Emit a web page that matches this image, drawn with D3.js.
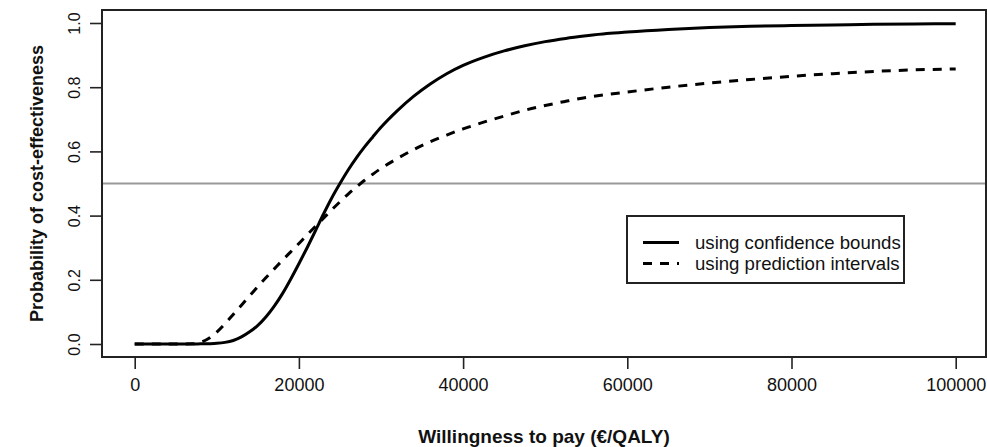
<!DOCTYPE html>
<html>
<head>
<meta charset="utf-8">
<script src="https://cdn.jsdelivr.net/npm/d3@7"></script>
<style>
  html, body { margin: 0; padding: 0; background: #fff; }
  svg { display: block; }
  text { font-family: "Liberation Sans", Arial, Helvetica, sans-serif; fill: #111; }
</style>
</head>
<body>
<svg id="chart" width="987" height="447"></svg>
<script>
// ---- data ----
const wtp = [0, 2500, 5000, 6000, 7000, 8000, 9000, 10000, 11000, 12000, 13000, 14000, 15000, 16000, 17000, 18000, 19000, 20000,
  21000, 22000, 23000, 24000, 25000, 26000, 27000, 28000, 29000, 30000, 32000, 34000, 36000, 38000, 40000,
  42500, 45000, 47500, 50000, 52500, 55000, 57500, 60000, 65000, 70000, 75000, 80000, 85000, 90000, 95000, 100000];
const confidenceBounds = [0, 0, 0, 0, 0, 0.0005, 0.001, 0.002, 0.005, 0.011, 0.022, 0.038, 0.058, 0.085, 0.118, 0.157, 0.202, 0.25,
  0.30, 0.352, 0.405, 0.455, 0.50, 0.542, 0.58, 0.614, 0.645, 0.675, 0.727, 0.772, 0.81, 0.842, 0.868,
  0.893, 0.913, 0.929, 0.942, 0.952, 0.96, 0.967, 0.972, 0.98, 0.986, 0.99, 0.992, 0.994, 0.996, 0.997, 0.998];
const predictionIntervals = [0, 0, 0, 0, 0.0005, 0.005, 0.017, 0.037, 0.063, 0.092, 0.121, 0.15, 0.179, 0.207, 0.234, 0.261, 0.287, 0.313,
  0.34, 0.366, 0.392, 0.418, 0.443, 0.467, 0.489, 0.51, 0.529, 0.547, 0.578, 0.606, 0.63, 0.651, 0.67,
  0.691, 0.71, 0.728, 0.743, 0.756, 0.768, 0.777, 0.785, 0.8, 0.813, 0.824, 0.834, 0.842, 0.849, 0.854, 0.857];
const xTicks = [0, 20000, 40000, 60000, 80000, 100000];
const yTicks = [0, 0.2, 0.4, 0.6, 0.8, 1.0];
const threshold = 0.5;
const seriesNames = ["using confidence bounds", "using prediction intervals"];
const xTitle = "Willingness to pay (€/QALY)";
const yTitle = "Probability of cost-effectiveness";

// ---- layout ----
const svg = d3.select("#chart");
const box = { left: 102, right: 986, top: 10, bottom: 357 };
const x = d3.scaleLinear().domain([0, 100000]).range([134.7, 955.7]);
const y = d3.scaleLinear().domain([0, 1]).range([344, 23]);

// gray threshold line
svg.append("line")
  .attr("x1", box.left).attr("x2", box.right)
  .attr("y1", y(threshold)).attr("y2", y(threshold))
  .attr("stroke", "#999").attr("stroke-width", 2);

// curves
const line = d3.line().x((d, i) => x(wtp[i])).y(d => y(d)).curve(d3.curveMonotoneX);
svg.append("path").datum(predictionIntervals)
  .attr("d", line).attr("fill", "none").attr("stroke", "#000")
  .attr("stroke-width", 3).attr("stroke-dasharray", "9,8");
svg.append("path").datum(confidenceBounds)
  .attr("d", line).attr("fill", "none").attr("stroke", "#000")
  .attr("stroke-width", 3);

// frame
svg.append("rect")
  .attr("x", box.left).attr("y", box.top)
  .attr("width", box.right - box.left).attr("height", box.bottom - box.top)
  .attr("fill", "none").attr("stroke", "#222").attr("stroke-width", 2);

// x axis
const xAxis = d3.axisBottom(x).tickValues(xTicks).tickFormat(d3.format("d")).tickSize(12).tickPadding(20);
const gx = svg.append("g").attr("transform", `translate(0,${box.bottom})`).call(xAxis);
gx.select(".domain").remove();
gx.selectAll(".tick line").attr("stroke", "#222").attr("stroke-width", 1.6);
gx.selectAll(".tick text").attr("font-size", 18).attr("fill", "#111")
  .attr("font-family", "'Liberation Sans', Arial, sans-serif").attr("dy", "0.1em");

// y axis
const yAxis = d3.axisLeft(y).tickValues(yTicks).tickFormat(d3.format(".1f")).tickSize(12);
const gy = svg.append("g").attr("transform", `translate(${box.left},0)`).call(yAxis);
gy.select(".domain").remove();
gy.selectAll(".tick line").attr("stroke", "#222").attr("stroke-width", 1.6);
gy.selectAll(".tick text")
  .attr("font-size", 16).attr("fill", "#111")
  .attr("font-family", "'Liberation Sans', Arial, sans-serif")
  .attr("x", null).attr("dy", null)
  .attr("text-anchor", "middle")
  .attr("transform", "translate(-28,0) rotate(-90)")
  .attr("dy", "0.35em");

// axis titles
svg.append("text")
  .attr("x", (box.left + box.right) / 2).attr("y", 443)
  .attr("text-anchor", "middle").attr("font-size", 19).attr("font-weight", "bold")
  .text(xTitle);
svg.append("text")
  .attr("transform", `translate(43,${(box.top + box.bottom) / 2}) rotate(-90)`)
  .attr("text-anchor", "middle").attr("font-size", 18).attr("font-weight", "bold")
  .text(yTitle);

// legend
const lg = { x: 627, y: 216, w: 277, h: 67 };
svg.append("rect").attr("x", lg.x).attr("y", lg.y).attr("width", lg.w).attr("height", lg.h)
  .attr("fill", "#fff").attr("stroke", "#222").attr("stroke-width", 2);
const legendRows = [
  { name: seriesNames[0], dash: null, cy: 242.5 },
  { name: seriesNames[1], dash: "9,8", cy: 263.5 }
];
legendRows.forEach(r => {
  svg.append("line").attr("x1", 643).attr("x2", 679).attr("y1", r.cy).attr("y2", r.cy)
    .attr("stroke", "#000").attr("stroke-width", 3).attr("stroke-dasharray", r.dash);
  svg.append("text").attr("x", 695).attr("y", r.cy).attr("dy", "0.35em")
    .attr("font-size", 18.6).text(r.name);
});
</script>
</body>
</html>
